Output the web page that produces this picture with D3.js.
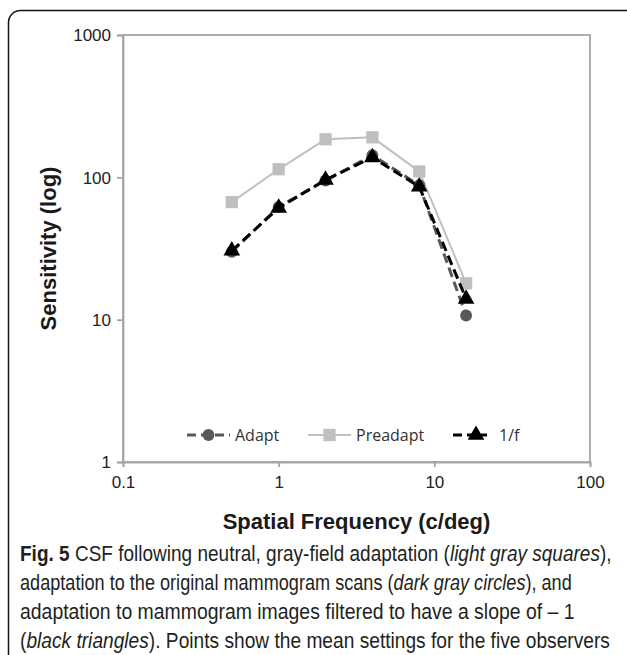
<!DOCTYPE html>
<html>
<head>
<meta charset="utf-8">
<script src="https://cdn.jsdelivr.net/npm/d3@7"></script>
<style>
  html, body { margin: 0; padding: 0; background: #fff; }
  svg { display: block; }
</style>
</head>
<body>
<div id="chart"></div>
<script>
// values
const freqs = [0.5, 1, 2, 4, 8, 16];
const adapt = [30, 62, 95, 143, 88, 10.7];
const preadapt = [67, 114, 185, 191, 110, 18];
const oneOverF = [30.5, 61, 96, 138, 86, 14];
const seriesNames = ["Adapt", "Preadapt", "1/f"];
const xTicks = [0.1, 1, 10, 100];
const yTicks = [1, 10, 100, 1000];

let w = 627;
let h = 655;
let marginLeft = 123;
let marginRight = 37;
let marginTop = 35;
let plotBottom = 462;

let x = d3.scaleLog().domain([0.1, 100]).range([marginLeft, w - marginRight]);
let y = d3.scaleLog().domain([1, 1000]).range([plotBottom, marginTop]);

let svg = d3
  .select("#chart")
  .append("svg")
  .attr("width", w)
  .attr("height", h);

// rounded figure frame (runs off the right/bottom edge)
svg
  .append("rect")
  .attr("x", 8.5)
  .attr("y", 10.5)
  .attr("width", 700)
  .attr("height", 700)
  .attr("rx", 12)
  .attr("fill", "none")
  .attr("stroke", "#111")
  .attr("stroke-width", 1.5);

// plot border
svg
  .append("rect")
  .attr("x", x(0.1))
  .attr("y", y(1000))
  .attr("width", x(100) - x(0.1))
  .attr("height", y(1) - y(1000))
  .attr("fill", "none")
  .attr("stroke", "#a6a6a6")
  .attr("stroke-width", 1.8);

let fmt = function (d) {
  return String(d);
};

let yAxis = svg
  .append("g")
  .attr("transform", `translate(${marginLeft},0)`)
  .call(d3.axisLeft(y).tickValues(yTicks).tickFormat(fmt).tickSize(6).tickPadding(6));

let xAxis = svg
  .append("g")
  .attr("transform", `translate(0,${plotBottom})`)
  .call(d3.axisBottom(x).tickValues(xTicks).tickFormat(fmt).tickSize(5).tickPadding(9));

[xAxis, yAxis].forEach(function (g) {
  g.select(".domain").attr("stroke", "#a6a6a6").attr("stroke-width", 1.8);
  g.selectAll(".tick line").attr("stroke", "#a6a6a6").attr("stroke-width", 1.8);
  g.selectAll(".tick text")
    .attr("fill", "#222")
    .style("font-family", "Liberation Sans, Arial, sans-serif")
    .style("font-size", "17px");
});
yAxis.selectAll(".tick text").attr("dy", "0.35em");

// axis titles
svg
  .append("text")
  .attr("transform", `translate(56,${(y(1) + y(1000)) / 2}) rotate(-90)`)
  .attr("text-anchor", "middle")
  .style("font-family", "Liberation Sans, Arial, sans-serif")
  .style("font-weight", "bold")
  .style("font-size", "22px")
  .attr("fill", "#1a1a1a")
  .text("Sensitivity (log)");

svg
  .append("text")
  .attr("x", (x(0.1) + x(100)) / 2)
  .attr("y", 529)
  .attr("text-anchor", "middle")
  .style("font-family", "Liberation Sans, Arial, sans-serif")
  .style("font-weight", "bold")
  .style("font-size", "22px")
  .attr("fill", "#1a1a1a")
  .text("Spatial Frequency (c/deg)");

let styles = [
  { values: adapt, color: "#595959", width: 3, dash: "10,5", marker: "circle" },
  { values: preadapt, color: "#bfbfbf", width: 2, dash: null, marker: "square" },
  { values: oneOverF, color: "#000", width: 3, dash: "10,5", marker: "triangle" }
];

let symbolFor = {
  circle: d3.symbol().type(d3.symbolCircle).size(110),
  square: d3.symbol().type(d3.symbolSquare).size(150),
  triangle: d3.symbol().type(d3.symbolTriangle).size(120)
};

let line = d3
  .line()
  .x(function (d) {
    return x(d[0]);
  })
  .y(function (d) {
    return y(d[1]);
  });

// draw preadapt first so the dark series sit on top
[1, 0, 2].forEach(function (i) {
  let s = styles[i];
  let pts = freqs.map(function (f, j) {
    return [f, s.values[j]];
  });
  let g = svg.append("g");
  g.append("path")
    .datum(pts)
    .attr("d", line)
    .attr("fill", "none")
    .attr("stroke", s.color)
    .attr("stroke-width", s.width)
    .attr("stroke-dasharray", s.dash);
  g.selectAll("path.pt")
    .data(pts)
    .enter()
    .append("path")
    .attr("class", "pt")
    .attr("d", symbolFor[s.marker])
    .attr("transform", function (d) {
      return `translate(${x(d[0])},${y(d[1])})`;
    })
    .attr("fill", s.color);
});

// legend
let legendX = [187, 308, 453];
let legendY = 435;
let legend = svg
  .append("g")
  .selectAll("g")
  .data(seriesNames)
  .enter()
  .append("g")
  .attr("transform", function (d, i) {
    return `translate(${legendX[i]},${legendY})`;
  });

legend
  .append("line")
  .attr("x1", 0)
  .attr("x2", function (d, i) {
    return i === 2 ? 34 : 43;
  })
  .attr("stroke", function (d, i) {
    return styles[i].color;
  })
  .attr("stroke-width", function (d, i) {
    return styles[i].width;
  })
  .attr("stroke-dasharray", function (d, i) {
    return i === 1 ? null : "9,5";
  });

legend
  .append("path")
  .attr("d", function (d, i) {
    return symbolFor[styles[i].marker]();
  })
  .attr("transform", function (d, i) {
    return `translate(${i === 2 ? 23 : 21.5},0)`;
  })
  .attr("fill", function (d, i) {
    return styles[i].color;
  });

legend
  .append("text")
  .attr("x", function (d, i) {
    return i === 2 ? 46 : 48;
  })
  .attr("dy", "0.35em")
  .style("font-family", "Open Sans, Liberation Sans, sans-serif")
  .style("font-size", "16px")
  .attr("fill", "#333")
  .text(function (d) {
    return d;
  });

// caption
let captionLines = [
  [["b", "Fig. 5"], ["n", " CSF following neutral, gray-field adaptation ("], ["i", "light gray squares"], ["n", "),"]],
  [["n", "adaptation to the original mammogram scans ("], ["i", "dark gray circles"], ["n", "), and"]],
  [["n", "adaptation to mammogram images filtered to have a slope of \u2013 1"]],
  [["n", "("], ["i", "black triangles"], ["n", "). Points show the mean settings for the five observers"]]
];
let captionWidths = [592, 552, 555, 590];

let caption = svg
  .append("g")
  .selectAll("text")
  .data(captionLines)
  .enter()
  .append("text")
  .attr("x", 0)
  .attr("y", 0)
  .style("font-family", "Liberation Sans, Arial, sans-serif")
  .style("font-size", "21.5px")
  .attr("fill", "#231f20");

caption
  .selectAll("tspan")
  .data(function (d) {
    return d;
  })
  .enter()
  .append("tspan")
  .style("font-weight", function (d) {
    return d[0] === "b" ? "bold" : "normal";
  })
  .style("font-style", function (d) {
    return d[0] === "i" ? "italic" : "normal";
  })
  .text(function (d) {
    return d[1];
  });

// squeeze each line horizontally to the narrow caption face of the original
caption.attr("transform", function (d, i) {
  let natural = this.getComputedTextLength();
  let sx = captionWidths[i] / natural;
  return `translate(20,${561 + i * 29}) scale(${sx},1)`;
});
</script>
</body>
</html>
